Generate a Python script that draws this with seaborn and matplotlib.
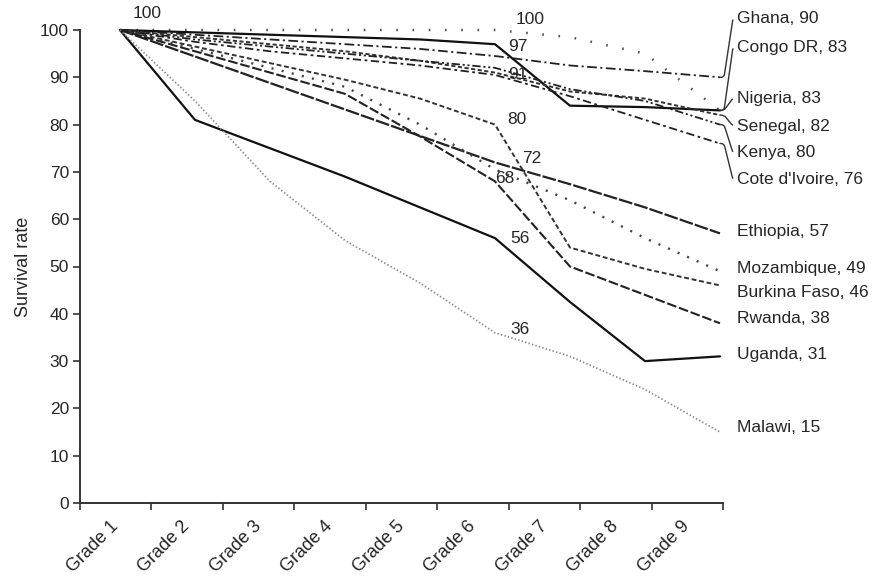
import matplotlib
matplotlib.use("Agg")
import matplotlib.pyplot as plt
import numpy as np
import pandas as pd
import seaborn as sns

# ---- data -----------------------------------------------------------------
grades = ["Grade 1", "Grade 2", "Grade 3", "Grade 4", "Grade 5",
          "Grade 6", "Grade 7", "Grade 8", "Grade 9"]

countries = ["Ghana", "Congo DR", "Nigeria", "Senegal", "Kenya", "Cote d'Ivoire",
             "Ethiopia", "Mozambique", "Burkina Faso", "Rwanda", "Uganda", "Malawi"]

ghana = [100, 99, 98, 97, 96, 94.5, 92.5, 91.3, 90]
congo_dr = [100, 100, 100, 100, 100, 100, 98.5, 95, 83]
nigeria = [100, 99.5, 99, 98.5, 98, 97, 84, 83.7, 83]
senegal = [100, 98.5, 97, 95.5, 93.5, 91, 87, 85.5, 82]
kenya = [100, 98, 96.5, 95, 93.5, 92, 87.5, 85, 80]
cote_divoire = [100, 97.5, 95.5, 94, 92.5, 90.5, 86, 81, 76]
ethiopia = [100, 94.4, 88.8, 83.2, 77.6, 72, 67.4, 62.5, 57]
mozambique = [100, 96, 92, 88, 80, 70.5, 64, 56, 49]
burkina_faso = [100, 96.5, 93, 89.5, 85.5, 80, 54, 49.5, 46]
rwanda = [100, 95.5, 91, 86.5, 77.5, 68, 50, 44, 38]
uganda = [100, 81, 75, 69, 62.5, 56, 42.5, 30, 31]
malawi = [100, 85, 68, 55.5, 46.5, 36, 31, 24, 15]

series = [ghana, congo_dr, nigeria, senegal, kenya, cote_divoire,
          ethiopia, mozambique, burkina_faso, rwanda, uganda, malawi]

# countries whose Grade 6 value is written next to the line
grade6_labelled = ["Congo DR", "Nigeria", "Senegal", "Burkina Faso",
                   "Ethiopia", "Rwanda", "Uganda", "Malawi"]

# ---- styling ----------------------------------------------------------------
line_styles = {
    "Ghana":        dict(color="#222222", lw=1.3, ls=(0, (7, 2.5, 1.5, 2.5))),
    "Congo DR":     dict(color="#555555", lw=1.8, ls=(0, (1.2, 10.5))),
    "Nigeria":      dict(color="#111111", lw=1.6, ls="-"),
    "Senegal":      dict(color="#333333", lw=1.4, ls=(0, (3, 1.8))),
    "Kenya":        dict(color="#222222", lw=1.3, ls=(0, (6, 2, 1.5, 2, 1.5, 2))),
    "Cote d'Ivoire": dict(color="#222222", lw=1.3, ls=(0, (6, 2.5, 2, 2.5))),
    "Ethiopia":     dict(color="#222222", lw=1.6, ls=(0, (10, 1.5))),
    "Mozambique":   dict(color="#444444", lw=1.7, ls=(0, (1.5, 6))),
    "Burkina Faso": dict(color="#333333", lw=1.4, ls=(0, (3.5, 2))),
    "Rwanda":       dict(color="#222222", lw=1.5, ls=(0, (7, 2))),
    "Uganda":       dict(color="#111111", lw=1.6, ls="-"),
    "Malawi":       dict(color="#8a8a8a", lw=1.3, ls=(0, (1, 1.6))),
}

# vertical placement of the end-of-line country labels (value units)
label_y = {"Ghana": 102.5, "Congo DR": 96.4, "Nigeria": 85.6, "Senegal": 79.7,
           "Kenya": 74.0, "Cote d'Ivoire": 68.3, "Ethiopia": 57.5,
           "Mozambique": 49.6, "Burkina Faso": 44.6, "Rwanda": 39.0,
           "Uganda": 31.3, "Malawi": 15.9}
with_connector = {"Ghana", "Congo DR", "Nigeria", "Senegal", "Kenya", "Cote d'Ivoire"}

# offsets (pixels) of the Grade 6 value labels
g6_offset = {"Congo DR": (35, 10), "Nigeria": (23, -2), "Senegal": (23, -2),
             "Burkina Faso": (22, 5), "Ethiopia": (37, 4), "Rwanda": (10, 3),
             "Uganda": (25, 0), "Malawi": (25, 3)}

sns.set_theme(style="white")
plt.rcParams["font.family"] = ["Liberation Sans", "DejaVu Sans"]
plt.rcParams["lines.scale_dashes"] = False
text_color = "#262626"
fs = 12.5

df = pd.DataFrame({
    "country": np.repeat(countries, len(grades)),
    "grade_idx": np.tile(np.arange(len(grades)), len(countries)),
    "rate": np.concatenate(series),
})

fig = plt.figure(figsize=(8.79, 5.80), dpi=100)
ax = fig.add_axes([80 / 879, 1 - 503 / 580, (723 - 80) / 879, (503 - 30) / 580])

for name in countries:
    st = line_styles[name]
    sns.lineplot(data=df[df["country"] == name], x="grade_idx", y="rate",
                 ax=ax, color=st["color"], linewidth=st["lw"], linestyle=st["ls"],
                 clip_on=False, legend=False)

# ---- axes -------------------------------------------------------------------
x_left, x_right = -0.533, 8.04
ax.set_xlim(x_left, x_right)
ax.set_ylim(0, 100)
for side in ("top", "right"):
    ax.spines[side].set_visible(False)
for side in ("left", "bottom"):
    ax.spines[side].set_color("#333333")
    ax.spines[side].set_linewidth(1.4)

ax.set_yticks(np.arange(0, 101, 10))
ax.tick_params(axis="y", direction="out", length=5, width=1.2, color="#333333",
               labelsize=fs, labelcolor=text_color, pad=3, left=True)

step = (x_right - x_left) / len(grades)
edges = x_left + step * np.arange(len(grades) + 1)
centers = edges[:-1] + step / 2
ax.set_xticks(edges, minor=True)
ax.set_xticks(centers)
ax.set_xticklabels(grades, rotation=45, ha="right", va="center",
                   rotation_mode="anchor", fontsize=13, color=text_color)
ax.tick_params(axis="x", which="major", length=0, pad=15, bottom=True)
ax.tick_params(axis="x", which="minor", direction="out", length=5, width=1.2,
               color="#333333", bottom=True)

ax.set_xlabel("")
ax.set_ylabel("Survival rate", fontsize=13, color=text_color, labelpad=6)
ax.grid(False)

# ---- value labels -----------------------------------------------------------
ax.annotate(f"{series[0][0]:.0f}", xy=(0, series[0][0]), xytext=(27, 17),
            textcoords="offset pixels", ha="center", va="center",
            fontsize=fs, color=text_color, annotation_clip=False)

for name in grade6_labelled:
    vals = series[countries.index(name)]
    dx, dy = g6_offset[name]
    ax.annotate(f"{vals[5]:.0f}", xy=(5, vals[5]), xytext=(dx, dy),
                textcoords="offset pixels", ha="center", va="center",
                fontsize=fs, color=text_color, annotation_clip=False)

text_x = 8.227
for name in countries:
    vals = series[countries.index(name)]
    txt = f"{name}, {vals[-1]:.0f}"
    if name in with_connector:
        ax.annotate(txt, xy=(8.0, vals[-1]), xytext=(text_x, label_y[name]),
                    ha="left", va="center", fontsize=fs, color=text_color,
                    annotation_clip=False,
                    arrowprops=dict(arrowstyle="-", color="#333333", lw=1.0,
                                    shrinkA=1, shrinkB=0, relpos=(0, 0.5),
                                    connectionstyle="arc,angleA=180,angleB=0,armA=4,armB=4,rad=3"))
    else:
        ax.text(text_x, label_y[name], txt, ha="left", va="center",
                fontsize=fs, color=text_color, clip_on=False)

fig.savefig("out.png", dpi=100)
